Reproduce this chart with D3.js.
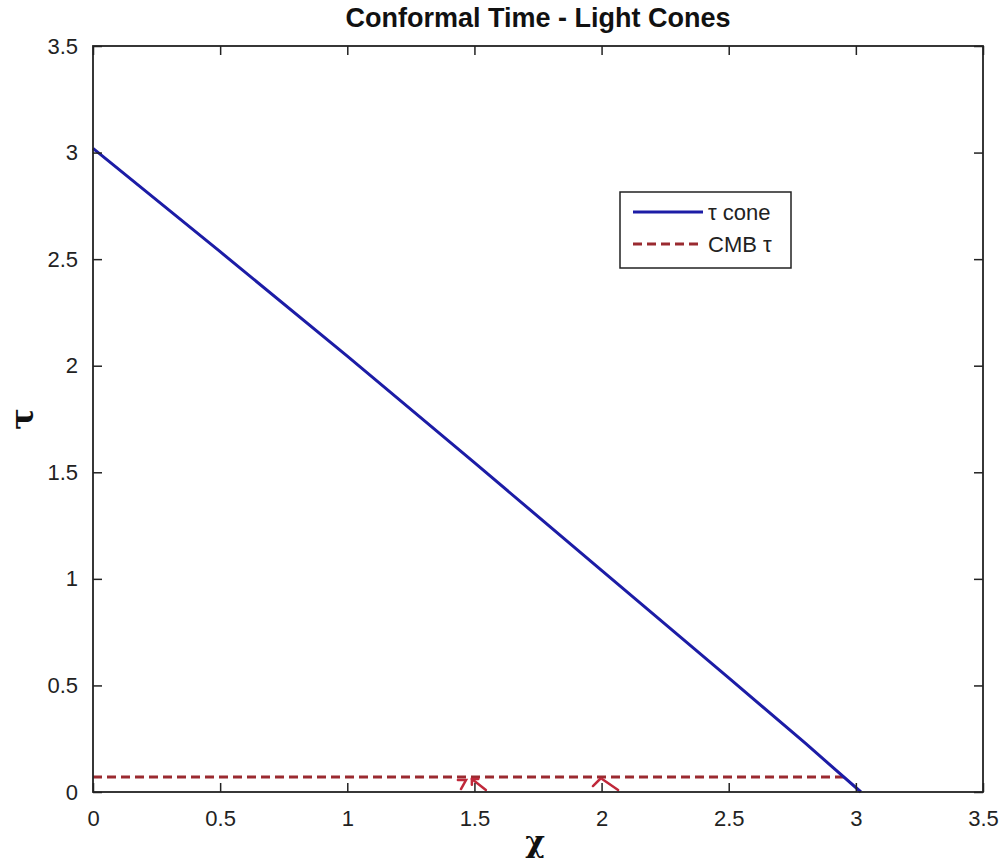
<!DOCTYPE html>
<html>
<head>
<meta charset="utf-8">
<script src="https://cdn.jsdelivr.net/npm/d3@7"></script>
<style>
  html, body { margin: 0; padding: 0; background: #fff; }
  svg { display: block; }
</style>
</head>
<body>
<svg id="chart" width="1000" height="863"></svg>
<script>
// ---- data ----
const coneChi = [0, 0.5, 1, 1.5, 2, 2.5, 2.8, 3.02];
const coneTau = [3.02, 2.535, 2.045, 1.545, 1.04, 0.535, 0.23, 0];
const cmbChi = [0, 2.965];
const cmbTau = [0.07, 0.07];
// small red stray strokes near the bottom axis
const strayStrokes = [
  [[1.435, 0.056], [1.467, 0.056], [1.447, 0.014]],
  [[1.545, 0.009], [1.490, 0.061]],
  [[1.490, 0.034], [1.490, 0.061], [1.515, 0.061]],
  [[1.966, 0.028], [1.994, 0.061]],
  [[2.002, 0.061], [2.065, 0.009]]
];
const xTicks = [0, 0.5, 1, 1.5, 2, 2.5, 3, 3.5];
const yTicks = [0, 0.5, 1, 1.5, 2, 2.5, 3, 3.5];
const xTickLabels = ["0", "0.5", "1", "1.5", "2", "2.5", "3", "3.5"];
const yTickLabels = ["0", "0.5", "1", "1.5", "2", "2.5", "3", "3.5"];
const titleText = "Conformal Time - Light Cones";
const xLabelText = "χ";
const yLabelText = "τ";
const legendLabels = ["τ cone", "CMB τ"];

// ---- layout ----
const svg = d3.select("#chart");
const L = 93, R = 983, T = 46, B = 792;
const x = d3.scaleLinear().domain([0, 3.5]).range([L, R]);
const y = d3.scaleLinear().domain([0, 3.5]).range([B, T]);
const font = "Arial, 'Liberation Sans', Helvetica, sans-serif";
const tickLen = 9;

svg.append("rect").attr("x", L).attr("y", T).attr("width", R - L).attr("height", B - T).attr("fill", "#fff");

// ---- data lines ----
const line = d3.line().x(d => x(d[0])).y(d => y(d[1]));
const cmbData = cmbChi.map((c, i) => [c, cmbTau[i]]);
const coneData = coneChi.map((c, i) => [c, coneTau[i]]);

svg.append("path").datum(cmbData).attr("d", line)
  .attr("fill", "none").attr("stroke", "#9a2a30").attr("stroke-width", 3)
  .attr("stroke-dasharray", "9,5");

strayStrokes.forEach(s => {
  svg.append("path").datum(s).attr("d", line)
    .attr("fill", "none").attr("stroke", "#c0283a").attr("stroke-width", 2.5)
    .attr("stroke-linecap", "round");
});

svg.append("path").datum(coneData).attr("d", line)
  .attr("fill", "none").attr("stroke", "#1c1ca6").attr("stroke-width", 3);

// ---- axes ----
const axisG = svg.append("g");
const axB = d3.axisBottom(x).tickValues(xTicks).tickFormat((d, i) => xTickLabels[i]).tickSizeInner(-tickLen).tickSizeOuter(0).tickPadding(18);
const axT = d3.axisTop(x).tickValues(xTicks).tickFormat("").tickSizeInner(-tickLen).tickSizeOuter(0);
const axL = d3.axisLeft(y).tickValues(yTicks).tickFormat((d, i) => yTickLabels[i]).tickSizeInner(-tickLen).tickSizeOuter(0).tickPadding(15);
const axR = d3.axisRight(y).tickValues(yTicks).tickFormat("").tickSizeInner(-tickLen).tickSizeOuter(0);

function styleAxis(g) {
  g.select(".domain").remove();
  g.selectAll(".tick line").attr("stroke", "#222").attr("stroke-width", 1.5);
  g.selectAll(".tick text").attr("fill", "#222").style("font-family", font).style("font-size", "22px");
}
axisG.append("g").attr("transform", `translate(0,${B})`).call(axB).call(styleAxis);
axisG.append("g").attr("transform", `translate(0,${T})`).call(axT).call(styleAxis);
axisG.append("g").attr("transform", `translate(${L},0)`).call(axL).call(styleAxis);
axisG.append("g").attr("transform", `translate(${R},0)`).call(axR).call(styleAxis);

// box
svg.append("rect").attr("x", L).attr("y", T).attr("width", R - L).attr("height", B - T)
  .attr("fill", "none").attr("stroke", "#222").attr("stroke-width", 1.8);

// ---- titles ----
svg.append("text").attr("x", (L + R) / 2).attr("y", 27).attr("text-anchor", "middle")
  .style("font-family", font).style("font-weight", "bold").style("font-size", "27px").attr("fill", "#111")
  .text(titleText);

svg.append("text").attr("x", (L + R) / 2 - 3).attr("y", 852).attr("text-anchor", "middle")
  .style("font-family", "'DejaVu Serif', 'Liberation Serif', serif").style("font-weight", "bold").style("font-size", "30px").attr("fill", "#111")
  .text(xLabelText);

svg.append("text").attr("transform", `translate(33,${(T + B) / 2}) rotate(-90)`).attr("text-anchor", "middle")
  .style("font-family", "'DejaVu Serif', 'Liberation Serif', serif").style("font-weight", "bold").style("font-size", "32px").attr("fill", "#111")
  .text(yLabelText);

// ---- legend ----
const lg = svg.append("g");
lg.append("rect").attr("x", 620).attr("y", 192).attr("width", 171).attr("height", 76)
  .attr("fill", "#fff").attr("stroke", "#222").attr("stroke-width", 1.5);
const legendItems = [
  { label: legendLabels[0], color: "#1c1ca6", dash: null, yy: 212 },
  { label: legendLabels[1], color: "#9a2a30", dash: "9,5", yy: 244 }
];
legendItems.forEach(it => {
  const ln = lg.append("line").attr("x1", 633).attr("x2", 703).attr("y1", it.yy).attr("y2", it.yy)
    .attr("stroke", it.color).attr("stroke-width", 3);
  if (it.dash) ln.attr("stroke-dasharray", it.dash);
  lg.append("text").attr("x", 708).attr("y", it.yy + 8)
    .style("font-family", font).style("font-size", "22px").attr("fill", "#222").text(it.label);
});
</script>
</body>
</html>
